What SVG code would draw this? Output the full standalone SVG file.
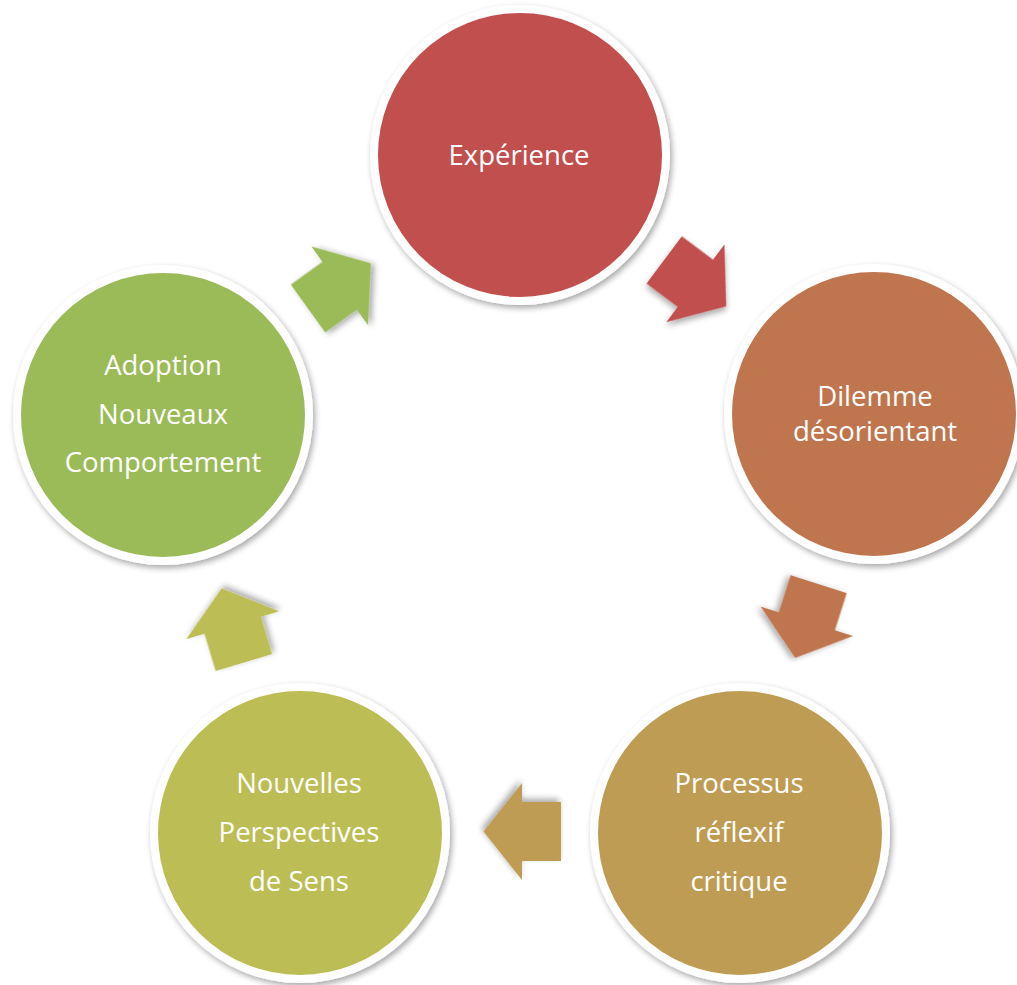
<svg xmlns="http://www.w3.org/2000/svg" width="1017" height="985" viewBox="0 0 1017 985">
  <defs>
    <filter id="sh" x="-20%" y="-20%" width="140%" height="140%">
      <feGaussianBlur in="SourceAlpha" stdDeviation="3"/>
      <feOffset dx="2" dy="3" result="b"/>
      <feComponentTransfer><feFuncA type="linear" slope="0.35"/></feComponentTransfer>
      <feMerge><feMergeNode/><feMergeNode in="SourceGraphic"/></feMerge>
    </filter>
    <path id="arr" d="M-39,-29.5 H0 V-48.5 L38.5,0 L0,48.5 V29.5 H-39 Z"/>
  </defs>
  <style>
    .node circle { stroke: #ffffff; stroke-width: 8; filter: url(#sh); }
    .node text { font-family: "Open Sans", "Liberation Sans", sans-serif; font-size: 27.5px; fill: #ffffff; text-anchor: middle; }
    .c1 { fill: #C0504D; }
    .c2 { fill: #BF764F; }
    .c3 { fill: #BF9C52; }
    .c4 { fill: #BDBD54; }
    .c5 { fill: #9BBB59; }
    #connectors use { filter: url(#sh); }
  </style>
  <rect width="1017" height="985" fill="#ffffff"/>

  <g id="connectors">
    <use href="#arr" class="c1" transform="translate(695.4,283.3) rotate(36.8)"/>
    <use href="#arr" class="c2" transform="translate(806.8,621.3) rotate(107.7)"/>
    <use href="#arr" class="c3" transform="translate(522,831.6) rotate(180)"/>
    <use href="#arr" class="c4" transform="translate(232.7,625.2) rotate(-106.7)"/>
    <use href="#arr" class="c5" transform="translate(339.7,285.8) rotate(-35.7)"/>
  </g>

  <g id="node-experience" class="node">
    <circle class="c1" cx="520" cy="155" r="146"/>
    <text x="519" y="165">Expérience</text>
  </g>
  <g id="node-dilemme" class="node">
    <circle class="c2" cx="874" cy="414" r="146"/>
    <text x="875" y="406">Dilemme</text>
    <text x="875" y="440.5">désorientant</text>
  </g>
  <g id="node-processus" class="node">
    <circle class="c3" cx="740" cy="833" r="146"/>
    <text x="739" y="793">Processus</text>
    <text x="739" y="842">réflexif</text>
    <text x="739" y="890.5">critique</text>
  </g>
  <g id="node-nouvelles" class="node">
    <circle class="c4" cx="300" cy="833" r="146"/>
    <text x="299" y="793">Nouvelles</text>
    <text x="299" y="842">Perspectives</text>
    <text x="299" y="890.5">de Sens</text>
  </g>
  <g id="node-adoption" class="node">
    <circle class="c5" cx="163" cy="415" r="146"/>
    <text x="163" y="375">Adoption</text>
    <text x="163" y="424">Nouveaux</text>
    <text x="163" y="472">Comportement</text>
  </g>
</svg>
